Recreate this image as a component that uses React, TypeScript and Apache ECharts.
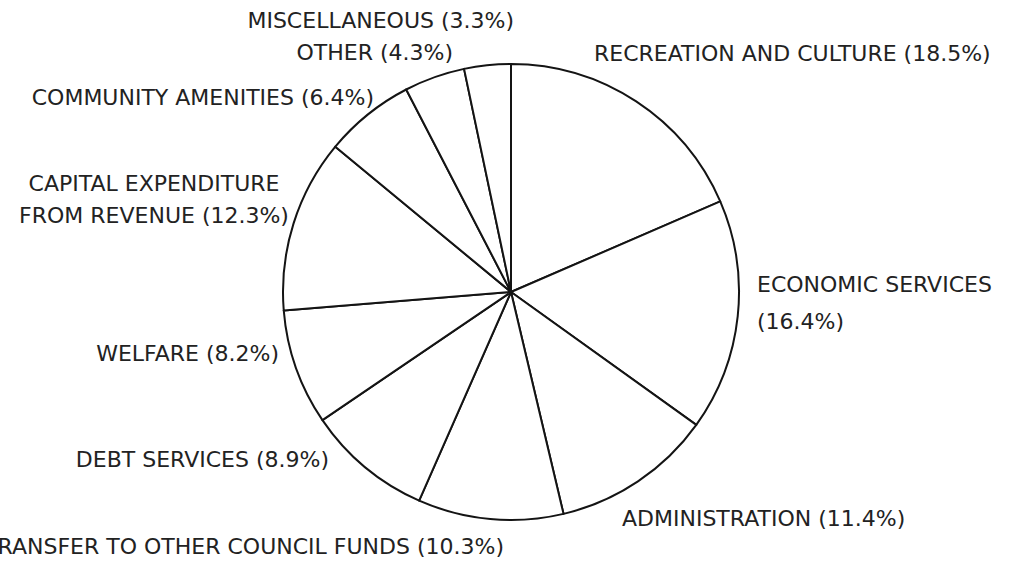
import React, { useEffect, useRef } from "react";
import * as echarts from "echarts";

const categories = [
  "RECREATION AND CULTURE",
  "ECONOMIC SERVICES",
  "ADMINISTRATION",
  "TRANSFER TO OTHER COUNCIL FUNDS",
  "DEBT SERVICES",
  "WELFARE",
  "CAPITAL EXPENDITURE\nFROM REVENUE",
  "COMMUNITY AMENITIES",
  "OTHER",
  "MISCELLANEOUS",
];
const percents = [18.5, 16.4, 11.4, 10.3, 8.9, 8.2, 12.3, 6.4, 4.3, 3.3];

// label placement (layout only): x, y, align
const labelPos: [number, number, string][] = [
  [594, 53, "left"],
  [757, 303, "left"],
  [622, 518, "left"],
  [504, 546, "right"],
  [329, 459, "right"],
  [279, 353, "right"],
  [154, 199, "center"],
  [374, 97, "right"],
  [453, 52, "right"],
  [514, 20, "right"],
];

export default function App() {
  const ref = useRef<HTMLDivElement>(null);
  useEffect(() => {
    if (!ref.current) return;
    const chart = echarts.init(ref.current, undefined, { renderer: "svg" });
    const data = categories.map((name, i) => {
      const item: any = { name, value: percents[i] };
      if (i === 6) item.label = { lineHeight: 32 };
      if (i === 1) item.label = { lineHeight: 37, formatter: "{b}\n({c}%)" };
      return item;
    });
    chart.setOption({
      animation: false,
      backgroundColor: "#ffffff",
      series: [
        {
          type: "pie",
          center: [511, 292],
          radius: 228,
          startAngle: 90,
          clockwise: true,
          avoidLabelOverlap: false,
          silent: true,
          data,
          itemStyle: { color: "#ffffff", borderColor: "#141414", borderWidth: 2 },
          label: {
            show: true,
            position: "outside",
            formatter: "{b} ({c}%)",
            fontFamily: "DejaVu Sans",
            fontSize: 22,
            color: "#222222",
          },
          labelLine: { show: false },
          labelLayout: (params: any) => {
            const p = labelPos[params.dataIndex];
            return { x: p[0], y: p[1], align: p[2], verticalAlign: "middle" };
          },
        },
      ],
    });
    return () => chart.dispose();
  }, []);
  return (
    <div
      ref={ref}
      style={{ position: "absolute", left: 0, top: 0, width: 1010, height: 563 }}
    />
  );
}
